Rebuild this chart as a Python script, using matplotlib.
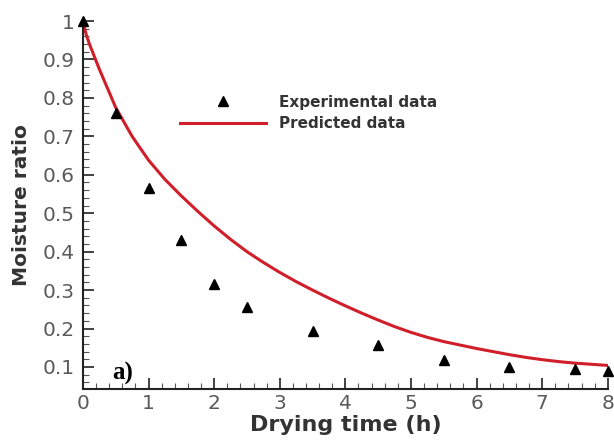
import matplotlib.pyplot as plt
from matplotlib.ticker import MultipleLocator

# experimental points
t_exp = [0, 0.5, 1, 1.5, 2, 2.5, 3.5, 4.5, 5.5, 6.5, 7.5, 8]
mr_exp = [1.0, 0.76, 0.565, 0.43, 0.315, 0.255, 0.193, 0.156, 0.118, 0.10, 0.094, 0.09]

# predicted curve
t_pred = [0, 0.05, 0.1, 0.25, 0.5, 0.75, 1, 1.25, 1.5, 1.75, 2, 2.25, 2.5, 2.75, 3, 3.25,
          3.5, 3.75, 4, 4.25, 4.5, 4.75, 5, 5.25, 5.5, 5.75, 6, 6.25, 6.5, 6.75, 7, 7.25,
          7.5, 7.75, 8]
mr_pred = [1.0, 0.965, 0.94, 0.875, 0.775, 0.70, 0.638, 0.588, 0.545, 0.505, 0.467, 0.432,
           0.40, 0.372, 0.346, 0.322, 0.300, 0.279, 0.259, 0.240, 0.222, 0.205, 0.190, 0.177,
           0.166, 0.157, 0.148, 0.140, 0.132, 0.125, 0.119, 0.114, 0.110, 0.107, 0.104]

fig = plt.figure(figsize=(6.14, 4.47), dpi=100)
ax = fig.add_axes([0.135, 0.130, 0.855, 0.823])

ax.plot(t_pred, mr_pred, color='#d01f2a', lw=2.2, label='Predicted data', zorder=2)
ax.plot(t_exp, mr_exp, ls='none', marker='^', ms=7.5, color='black',
        label='Experimental data', clip_on=False, zorder=3)

ax.set_xlim(0, 8)
ax.set_ylim(0.043, 1.0)
ax.xaxis.set_major_locator(MultipleLocator(1))
ax.xaxis.set_minor_locator(MultipleLocator(0.2))
ax.yaxis.set_minor_locator(MultipleLocator(0.02))
ax.set_yticks([0.1, 0.2, 0.3, 0.4, 0.5, 0.6, 0.7, 0.8, 0.9, 1.0])
ax.set_yticklabels(['0.1', '0.2', '0.3', '0.4', '0.5', '0.6', '0.7', '0.8', '0.9', '1'])

for s in ['top', 'right']:
    ax.spines[s].set_visible(False)
for s in ['left', 'bottom']:
    ax.spines[s].set_linewidth(1.5)
    ax.spines[s].set_color('#222222')

ax.tick_params(which='major', direction='in', length=8, width=1.3, color='#333333',
               labelsize=14.5, labelcolor='#5a5a5a')
ax.tick_params(axis='y', which='major', pad=6)
ax.tick_params(axis='x', which='major', pad=4)
ax.tick_params(which='minor', direction='in', length=4, width=0.8, color='#555555')

ax.set_xlabel('Drying time (h)', fontsize=16, fontweight='bold', color='#333333', labelpad=1)
ax.set_ylabel('Moisture ratio', fontsize=14.5, fontweight='bold', color='#333333', labelpad=8)

ax.text(0.45, 0.052, 'a)', fontsize=18, fontweight='bold', family='Liberation Serif',
        color='black', ha='left', va='bottom')

handles, labels = ax.get_legend_handles_labels()
leg = ax.legend(handles[::-1], labels[::-1], loc='upper left', bbox_to_anchor=(0.185, 0.80),
                frameon=False, borderpad=0, borderaxespad=0, handlelength=5.6,
                handletextpad=0.85, labelspacing=0.45,
                prop={'weight': 'bold', 'size': 11})
for txt in leg.get_texts():
    txt.set_color('#333333')

fig.savefig('out.png', dpi=100)
